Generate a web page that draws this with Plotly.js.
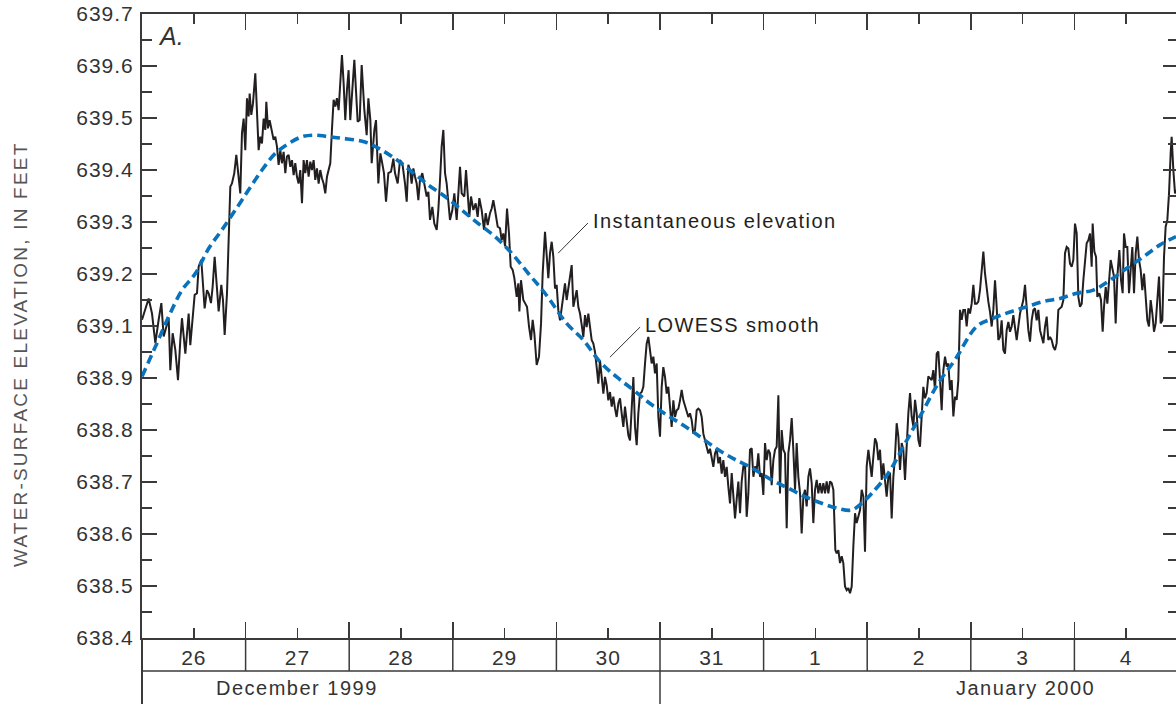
<!DOCTYPE html>
<html>
<head>
<meta charset="utf-8">
<script src="https://cdn.plot.ly/plotly-3.0.1.min.js"></script>
<style>
  html, body { margin: 0; padding: 0; overflow: hidden; background: #fff; }
  #chart { width: 1180px; height: 704px; }
  .xtick text, .ytick text { letter-spacing: 1px; }
</style>
</head>
<body>
<div id="chart"></div>
<script>
// Hours since 00:00 on December 26, 1999, and instantaneous water-surface elevation (feet)
const hours = [
  0.00,0.77,1.54,2.32,3.09,3.86,4.48,5.02,5.56,6.18,6.56,7.10,7.72,8.34,8.88,9.26,10.04,10.81,11.19,11.73,
  12.20,12.74,13.12,13.74,14.13,14.51,15.05,15.44,15.98,16.37,16.83,17.37,17.76,18.37,18.76,19.15,19.69,20.07,20.46,20.84,
  21.38,21.85,22.23,22.77,23.16,23.55,23.93,24.32,24.70,24.94,25.32,25.71,26.25,26.63,27.02,27.41,27.79,28.18,28.56,28.80,
  29.18,29.57,30.11,30.49,30.88,31.27,31.65,32.04,32.42,32.81,33.20,33.58,33.97,34.35,34.74,35.13,35.51,35.90,36.28,36.67,
  37.06,37.44,37.83,38.21,38.60,38.99,39.37,39.76,40.14,40.53,40.92,41.30,41.69,42.07,42.46,42.85,43.23,43.62,44.00,44.39,
  44.78,45.16,45.55,45.93,46.32,46.71,47.09,47.48,47.86,48.25,
  49.19,49.96,50.43,50.89,51.51,52.05,52.44,52.90,53.21,53.83,54.21,54.75,55.22,55.52,56.06,56.53,57.07,57.69,58.23,58.61,
  59.23,59.77,60.31,60.93,61.32,61.70,62.09,62.47,62.86,63.25,63.63,64.02,64.40,64.94,65.56,65.95,66.34,66.72,67.26,67.72,
  68.27,68.65,69.04,69.42,69.81,70.20,70.58,70.97,71.35,71.89,72.36,72.90,73.28,73.67,74.06,74.67,75.06,75.45,75.83,76.22,
  76.76,77.30,77.76,78.15,78.69,79.23,79.62,80.08,80.62,81.01,81.39,81.78,82.40,82.94,83.32,83.71,84.10,84.56,85.02,85.41,
  85.87,86.26,86.80,87.18,87.42,87.80,88.34,88.73,89.19,89.66,90.12,90.50,90.89,91.43,91.97,92.44,92.82,93.36,93.83,94.13,
  94.52,94.91,
  95.29,95.68,96.06,96.45,96.84,97.22,97.61,97.99,98.38,98.77,99.15,99.54,99.93,100.31,100.70,101.08,101.47,101.86,102.24,102.63,
  103.01,103.40,103.79,104.17,104.56,104.94,105.33,105.72,106.10,106.49,106.88,107.26,107.65,108.03,108.42,108.81,109.19,109.58,109.96,110.35,
  110.74,111.12,111.51,111.89,112.28,112.67,113.05,113.44,113.83,114.21,114.60,114.98,115.37,115.76,116.14,116.53,116.91,117.30,117.69,118.07,
  118.46,118.84,119.23,119.62,120.00,120.39,120.77,121.16,121.55,121.93,122.32,122.70,123.09,123.48,123.86,124.25,124.64,125.02,125.41,125.79,
  126.18,126.57,126.95,127.34,127.72,128.11,128.50,128.88,129.27,129.66,130.04,130.43,130.81,131.20,131.59,131.97,132.36,132.74,133.13,133.52,
  133.90,134.29,134.67,135.06,135.45,
  135.83,136.22,136.61,136.99,137.38,137.76,138.15,138.54,138.92,139.31,139.69,140.08,140.47,140.85,141.24,141.63,142.01,142.40,142.78,143.17,
  143.56,143.94,144.33,144.71,145.10,145.49,145.87,146.26,146.64,147.03,147.42,147.80,148.19,148.58,148.96,149.35,149.73,150.12,150.51,150.89,
  151.28,151.66,152.05,152.44,152.82,153.21,153.59,153.98,154.37,154.75,155.14,155.52,155.91,156.30,156.68,157.07,157.46,157.84,158.23,158.61,
  159.00,159.39,159.77,160.16,160.39,160.62,160.93,161.32,161.70,162.09,162.47,162.86,163.25,163.63,164.02,164.41,164.79,165.18,165.56,165.95,
  166.34,166.72,167.11,167.49,167.88,168.27,168.65,169.04,169.43,169.81,170.20,170.58,170.97,171.36,171.74,172.13,172.51,172.90,173.29,173.67,
  174.06,174.44,174.83,175.22,175.60,175.99,176.37,176.76,177.15,177.53,177.92,178.30,178.69,179.08,179.46,179.85,180.23,180.62,181.00,181.39,
  181.78,182.16,
  182.94,183.32,183.71,184.10,184.48,184.87,185.25,185.64,186.03,186.41,186.80,187.18,187.57,187.96,188.34,188.73,189.11,189.50,189.89,190.27,
  190.66,191.04,191.43,191.82,192.20,192.59,192.97,193.36,193.75,194.13,194.52,194.91,195.29,195.68,196.06,196.45,196.84,197.22,197.61,197.99,
  198.38,198.77,199.15,199.54,199.92,200.31,200.70,201.08,201.47,201.86,202.24,202.63,203.01,203.40,203.79,204.17,204.56,204.94,205.33,205.72,
  206.10,206.49,206.87,207.26,207.65,208.03,208.42,208.81,209.19,209.58,209.96,210.35,210.74,211.12,211.51,211.89,212.28,212.67,213.05,213.44,
  213.82,214.21,214.60,214.98,215.37,215.75,216.14,216.53,216.91,217.30,217.69,218.07,218.46,218.84,219.23,219.62,220.00,220.23,220.62,221.01,
  221.31,221.78,222.16,222.55,222.86,223.25,223.63,224.02,224.40,224.79,225.18,225.56,225.95,226.41,226.80,227.18,227.49,227.88,228.26,228.65,
  229.04,229.42,229.81,230.20,230.58,230.97,231.35,231.74,232.13,232.51,232.90,233.28,233.67,234.06,234.44,234.83,235.21,235.60,235.99,236.37,
  236.76,237.14,237.53,237.92,238.30,238.53,238.92,239.31,239.54
];
const elevation = [
  639.112,639.131,639.153,639.124,639.067,639.112,639.144,639.080,639.099,639.115,639.015,639.086,639.054,638.996,639.073,639.115,639.047,639.124,639.063,639.124,
  639.160,639.163,639.214,639.227,639.176,639.134,639.169,639.163,639.144,639.176,639.233,639.163,639.128,639.179,639.150,639.083,639.163,639.265,639.368,639.374,
  639.394,639.429,639.400,639.355,639.471,639.499,639.438,639.538,639.503,639.547,639.506,639.528,639.586,639.512,639.438,639.464,639.451,639.499,639.477,639.531,
  639.480,639.496,639.471,639.458,639.464,639.445,639.410,639.438,639.413,639.435,639.394,639.426,639.429,639.406,639.419,639.390,639.413,639.387,639.374,639.400,
  639.336,639.419,639.394,639.419,639.387,639.416,639.400,639.419,639.381,639.403,639.374,639.400,639.384,639.374,639.355,639.387,639.400,639.413,639.477,639.535,
  639.522,639.538,639.515,639.576,639.621,639.567,639.496,639.554,639.592,639.496,
  639.612,639.493,639.496,639.602,639.515,639.467,639.538,639.496,639.413,639.477,639.496,639.374,639.432,639.419,639.394,639.339,639.394,639.397,639.422,639.394,
  639.374,639.419,639.413,639.374,639.339,639.410,639.400,639.374,639.403,639.387,639.374,639.342,639.381,639.394,639.365,639.349,639.358,639.304,639.329,639.297,
  639.285,639.323,639.381,639.445,639.477,639.394,639.374,639.342,639.304,639.323,639.355,639.304,639.362,639.406,639.355,639.349,639.400,639.342,639.310,639.349,
  639.323,639.336,639.310,639.346,639.323,639.285,639.317,639.294,639.317,639.326,639.342,639.323,639.291,639.288,639.265,639.278,639.253,639.326,639.278,639.214,
  639.208,639.192,639.156,639.182,639.128,639.188,639.150,639.144,639.137,639.099,639.073,639.112,639.086,639.025,639.041,639.105,639.201,639.281,639.233,639.192,
  639.240,639.262,
  639.233,639.172,639.179,639.130,639.111,639.137,639.166,639.182,639.150,639.175,639.198,639.217,639.137,639.156,639.169,639.137,639.124,639.102,639.079,639.121,
  639.098,639.124,639.092,639.073,639.066,639.050,639.021,638.989,639.034,638.993,638.970,639.002,638.986,638.957,638.973,638.945,638.964,638.941,638.925,638.951,
  638.961,638.932,638.906,638.945,638.916,638.890,638.880,638.932,639.002,638.906,638.871,638.932,638.970,638.973,638.983,639.028,639.066,639.079,639.054,639.028,
  639.041,639.009,639.028,638.925,638.887,638.983,639.021,639.002,638.970,638.983,638.945,638.906,638.957,638.925,638.938,638.941,638.957,638.977,638.957,638.945,
  638.932,638.925,638.932,638.919,638.893,638.900,638.938,638.941,638.938,638.925,638.893,638.880,638.868,638.855,638.864,638.848,638.829,638.855,638.864,638.836,
  638.848,638.816,638.842,638.810,638.829,
  638.791,638.759,638.817,638.772,638.730,638.766,638.801,638.740,638.801,638.830,638.836,638.733,638.778,638.862,638.865,638.810,638.830,638.823,638.855,638.810,
  638.817,638.775,638.875,638.842,638.862,638.855,638.794,638.842,638.862,638.868,638.967,638.778,638.900,638.862,638.855,638.711,638.855,638.881,638.923,638.862,
  638.785,638.875,638.810,638.778,638.701,638.772,638.785,638.753,638.810,638.826,638.798,638.721,638.785,638.804,638.778,638.798,638.778,638.798,638.778,638.801,
  638.778,638.801,638.798,638.785,638.695,638.669,638.663,638.669,638.644,638.657,638.644,638.599,638.592,638.596,638.586,638.599,638.676,638.740,638.721,638.733,
  638.746,638.785,638.772,638.666,638.830,638.862,638.836,638.810,638.849,638.884,638.875,638.842,638.862,638.804,638.836,638.798,638.772,638.810,638.817,638.730,
  638.810,638.849,638.913,638.887,638.823,638.875,638.862,638.804,638.881,638.932,638.971,638.926,638.907,638.958,638.932,638.881,638.868,638.939,638.983,638.961,
  638.971,639.003,
  638.996,639.015,638.977,639.047,639.051,638.996,638.938,639.015,639.041,639.022,639.028,638.977,638.996,638.926,638.964,638.958,638.996,639.131,639.112,639.131,
  639.131,639.099,639.134,639.124,639.143,639.179,639.143,639.143,639.147,639.169,639.201,639.243,639.201,639.169,639.147,639.127,639.099,639.131,639.188,639.137,
  639.073,639.079,639.111,639.054,639.047,639.092,639.108,639.089,639.099,639.121,639.092,639.073,639.099,639.124,639.137,639.150,639.179,639.137,639.092,639.070,
  639.111,639.131,639.134,639.111,639.131,639.092,639.079,639.067,639.099,639.118,639.073,639.079,639.073,639.060,639.054,639.067,639.131,639.134,639.137,639.150,
  639.240,639.252,639.249,639.220,639.214,639.227,639.297,639.278,639.156,639.137,639.143,639.188,639.227,639.259,639.265,639.278,639.214,639.297,639.243,639.233,
  639.156,639.163,639.150,639.089,639.137,639.175,639.143,639.188,639.227,639.211,639.195,639.105,639.195,639.246,639.188,639.163,639.278,639.252,639.252,639.163,
  639.201,639.252,639.163,639.240,639.272,639.227,639.208,639.169,639.201,639.150,639.111,639.099,639.150,639.124,639.089,639.105,639.150,639.195,639.105,639.111,
  639.233,639.291,639.304,639.355,639.432,639.464,639.400,639.355,639.362
];

// LOWESS smooth of the same record
const smoothHours = [
  0.00,3.09,6.18,9.27,12.36,15.44,18.53,21.62,24.71,27.80,30.89,33.98,37.07,40.15,43.24,46.33,
  51.66,54.75,58.61,62.47,66.34,70.20,74.06,77.92,81.78,85.64,89.50,93.36,
  98.38,102.24,106.10,109.96,113.83,117.69,121.55,125.41,129.27,133.13,136.99,140.85,
  145.87,149.73,153.59,157.45,161.32,164.40,166.72,169.04,172.90,176.76,180.62,184.48,188.34,
  193.36,197.22,201.08,204.94,208.81,212.67,216.53,220.39,224.25,228.11,231.97,235.83,239.54
];
const smoothElevation = [
  639.003,639.060,639.118,639.169,639.201,639.249,639.285,639.323,639.362,639.400,639.432,639.451,639.464,639.467,639.464,639.461,
  639.454,639.442,639.422,639.397,639.371,639.349,639.323,639.297,639.272,639.240,639.201,639.163,
  639.105,639.073,639.031,639.002,638.977,638.951,638.929,638.909,638.887,638.864,638.845,638.829,
  638.804,638.788,638.772,638.759,638.749,638.746,638.759,638.778,638.817,638.874,638.932,638.990,639.035,
  639.099,639.115,639.127,639.137,639.147,639.153,639.163,639.169,639.188,639.211,639.233,639.256,639.272
];

// Time axis: day cells (label at noon, boundary at midnight)
const dayLabels = ['26','27','28','29','30','31','1','2','3','4'];
const dayNoon = [12,36,60,84,108,132,156,180,204,228];
const dayBreaks = [24,48,72,96,120,144,168,192,216];
const monthLabels = ['December 1999','January 2000'];
const monthLabelHours = [36,204.6];
const monthBreak = 120;

// Elevation axis ticks as printed
const yTickVals = [638.5,638.6,638.7,638.8,638.9,639.0,639.1,639.2,639.3,639.4,639.5,639.6,639.7];
const yTickText = ['638.4','638.5','638.6','638.7','638.8','638.9','639.1','639.2','639.3','639.4','639.5','639.6','639.7'];
const yMinorVals = [638.55,638.65,638.75,638.85,638.95,639.05,639.15,639.25,639.35,639.45,639.55,639.65];

const FONT = 'Liberation Sans, Arial, Helvetica, sans-serif';
const INK = '#231f20';
const AXIS = '#3a3a3a';
const PLOT_H = 624;             // plot-area height in px
const py = px => px / PLOT_H;   // pixel offset -> paper fraction

const traces = [
  {
    x: hours, y: elevation, type: 'scatter', mode: 'lines',
    line: { color: INK, width: 2 },
    xaxis: 'x', yaxis: 'y', hoverinfo: 'skip', showlegend: false
  },
  {
    x: smoothHours, y: smoothElevation, type: 'scatter', mode: 'lines',
    line: { color: '#0a72ba', width: 3.6, dash: '9px,5px', shape: 'spline', smoothing: 1 },
    xaxis: 'x2', yaxis: 'y2', hoverinfo: 'skip', showlegend: false
  }
];

const tickStyle = { ticks: 'inside', tickcolor: AXIS, tickwidth: 1.5 };

const layout = {
  width: 1180, height: 704,
  margin: { l: 142, r: 2, t: 14, b: 66 },
  paper_bgcolor: '#fff', plot_bgcolor: '#fff',
  showlegend: false,
  font: { family: FONT, color: '#333' },
  xaxis: Object.assign({
    range: [0, 240], showgrid: false, zeroline: false,
    showline: true, linecolor: AXIS, linewidth: 2,
    tickmode: 'array', tickvals: dayNoon, ticktext: dayLabels, ticklen: 10,
    ticklabelstandoff: 0,
    tickfont: { family: FONT, size: 21, color: '#333' },
    minor: { tickmode: 'array', tickvals: dayBreaks, ticks: 'inside', ticklen: 16, tickcolor: AXIS, tickwidth: 1.5 }
  }, tickStyle),
  xaxis2: Object.assign({
    matches: 'x', overlaying: 'x', side: 'top', showgrid: false, zeroline: false,
    showline: true, linecolor: AXIS, linewidth: 2, showticklabels: false,
    tickmode: 'array', tickvals: dayNoon, ticklen: 10,
    minor: { tickmode: 'array', tickvals: dayBreaks, ticks: 'inside', ticklen: 16, tickcolor: AXIS, tickwidth: 1.5 }
  }, tickStyle),
  yaxis: Object.assign({
    range: [638.5, 639.7], showgrid: false, zeroline: false,
    showline: true, linecolor: AXIS, linewidth: 2,
    tickmode: 'array', tickvals: yTickVals, ticktext: yTickText, ticklen: 15,
    ticklabelstandoff: 2,
    tickfont: { family: FONT, size: 21, color: '#333' },
    minor: { tickmode: 'array', tickvals: yMinorVals, ticks: 'inside', ticklen: 10, tickcolor: AXIS, tickwidth: 1.5 }
  }, tickStyle),
  yaxis2: Object.assign({
    matches: 'y', overlaying: 'y', side: 'right', showgrid: false, zeroline: false,
    showline: false, showticklabels: false,
    tickmode: 'array', tickvals: yTickVals, ticklen: 15,
    minor: { tickmode: 'array', tickvals: yMinorVals, ticks: 'inside', ticklen: 10, tickcolor: AXIS, tickwidth: 1.5 }
  }, tickStyle),
  shapes: [],
  annotations: []
};

// Date table under the plot
const line = { color: AXIS, width: 1.5 };
layout.shapes.push({ type: 'line', xref: 'paper', yref: 'paper', x0: 0, x1: 1, y0: -py(33), y1: -py(33), line });
layout.shapes.push({ type: 'line', xref: 'paper', yref: 'paper', x0: 0, x1: 0, y0: 0, y1: -py(70), line: { color: AXIS, width: 2 } });
dayBreaks.forEach(h => layout.shapes.push({ type: 'line', xref: 'x', yref: 'paper', x0: h, x1: h, y0: 0, y1: -py(33), line }));
layout.shapes.push({ type: 'line', xref: 'x', yref: 'paper', x0: monthBreak, x1: monthBreak, y0: -py(33), y1: -py(70), line });

monthLabels.forEach((t, i) => layout.annotations.push({
  xref: 'x', yref: 'paper', x: monthLabelHours[i], y: -py(50), xanchor: 'center', yanchor: 'middle',
  text: '<span style="letter-spacing:1.5px">' + t + '</span>', showarrow: false,
  font: { family: FONT, size: 20, color: '#333' }
}));

// Panel letter
layout.annotations.push({
  xref: 'paper', yref: 'paper', x: 14 / 1036, y: 1 - py(22), xanchor: 'left', yanchor: 'middle',
  text: 'A.', showarrow: false, font: { family: FONT, size: 25, style: 'italic', color: '#333' }
});

// Y-axis title
layout.annotations.push({
  xref: 'paper', yref: 'paper', x: -122 / 1036, y: 0.4535, xanchor: 'center', yanchor: 'middle',
  textangle: -90, showarrow: false,
  text: '<span style="letter-spacing:2.2px">WATER-SURFACE ELEVATION, IN FEET</span>',
  font: { family: FONT, size: 19, color: '#555' }
});

// Callouts with leader lines
const leader = { color: '#333', width: 1 };
layout.shapes.push({ type: 'line', xref: 'x', yref: 'y', x0: 96.4, y0: 639.240, x1: 103.3, y1: 639.298, line: leader });
layout.shapes.push({ type: 'line', xref: 'x', yref: 'y', x0: 108.4, y0: 639.040, x1: 115.4, y1: 639.098, line: leader });
layout.annotations.push({
  xref: 'x', yref: 'y', x: 104.0, y: 639.302, xanchor: 'left', yanchor: 'middle', showarrow: false,
  text: '<span style="letter-spacing:1.4px">Instantaneous elevation</span>',
  font: { family: FONT, size: 20, color: INK }
});
layout.annotations.push({
  xref: 'x', yref: 'y', x: 116.1, y: 639.102, xanchor: 'left', yanchor: 'middle', showarrow: false,
  text: '<span style="letter-spacing:1.4px">LOWESS smooth</span>',
  font: { family: FONT, size: 20, color: INK }
});

Plotly.newPlot('chart', traces, layout, { staticPlot: true, displayModeBar: false });
</script>
</body>
</html>
